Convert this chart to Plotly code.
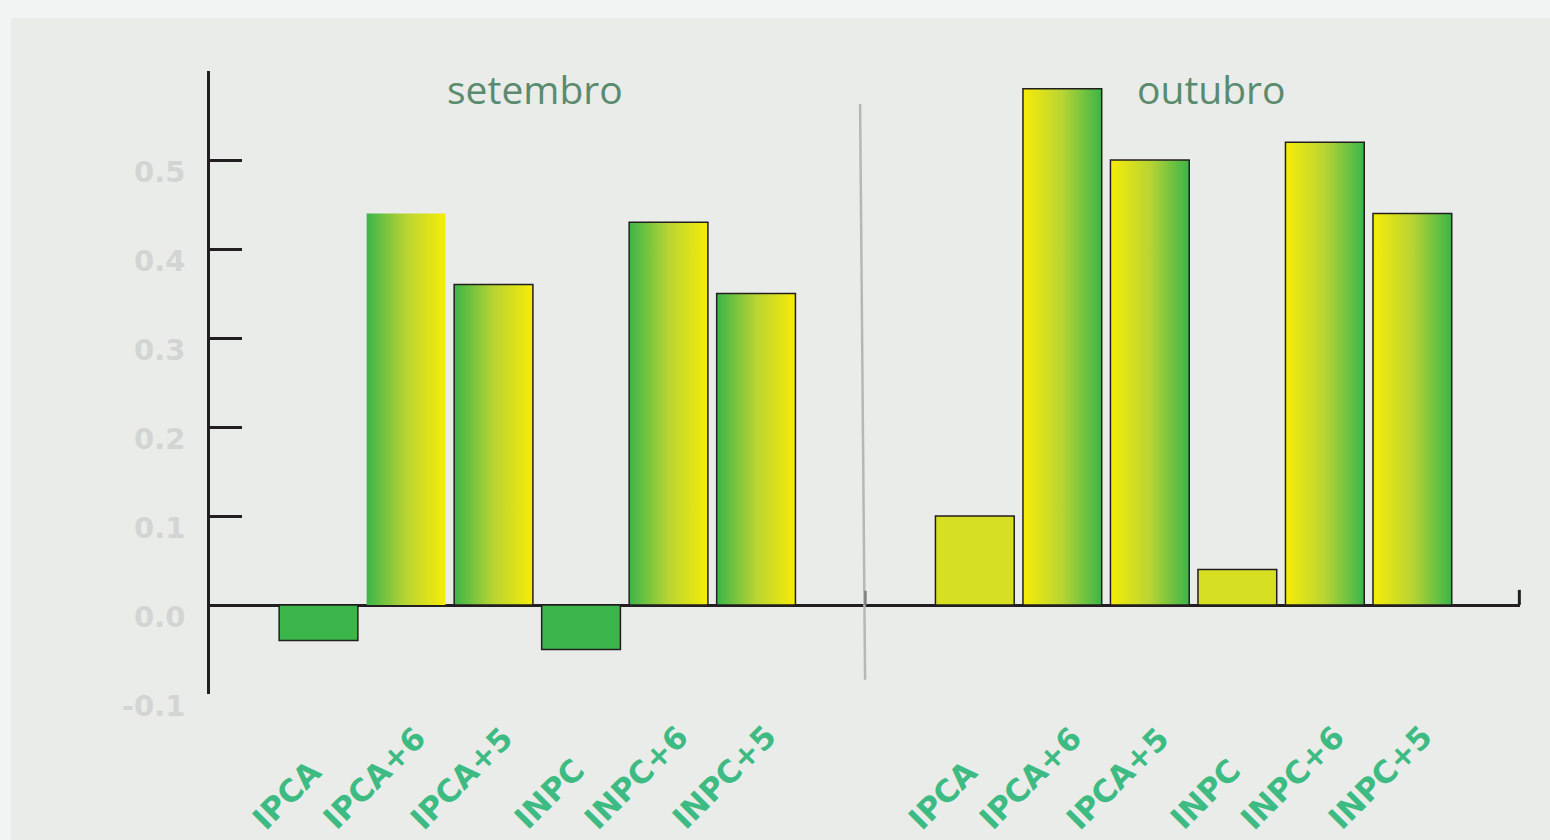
import plotly.graph_objects as go

# ---- data ----
categories = ["IPCA", "IPCA+6", "IPCA+5", "INPC", "INPC+6", "INPC+5"]
setembro = [-0.04, 0.44, 0.36, -0.05, 0.43, 0.35]
outubro = [0.10, 0.58, 0.50, 0.04, 0.52, 0.44]
y_ticks = [-0.1, 0.0, 0.1, 0.2, 0.3, 0.4, 0.5]
y_tick_labels = ["-0.1", "0.0", "0.1", "0.2", "0.3", "0.4", "0.5"]
month_titles = ["setembro", "outubro"]

# ---- styling / layout ----
GREEN = "#3BB54A"
YELLOW = "#F7EC08"
MID = "#B9D433"
SOLID_OCT = "#D7DF23"
OUTLINE = "#231F20"
LABEL_GREEN = "#3DBB83"
BAR_W = 0.9
GROUP_OFFSET = [0.0, 7.5]
TITLE_X = [2.47, 2.7]

fig = go.Figure()

def add_bar(xc, val, kind, outline=True):
    x0, x1 = xc - BAR_W / 2, xc + BAR_W / 2
    xs = [x0, x1, x1, x0, x0]
    ys = [0, 0, val, val, 0]
    line = dict(color=OUTLINE, width=1.5) if outline else dict(width=0, color="rgba(0,0,0,0)")
    scale = [[0, GREEN], [0.5, MID], [1, YELLOW]] if kind == "g2y" else [[0, YELLOW], [0.5, MID], [1, GREEN]]
    fig.add_trace(go.Scatter(x=xs, y=ys, mode="lines", fill="toself", line=line,
                             fillgradient=dict(type="horizontal", colorscale=scale),
                             hoverinfo="skip", showlegend=False))

for g, (vals, off) in enumerate(zip([setembro, outubro], GROUP_OFFSET)):
    xs = [off + i for i in range(len(categories))]
    solid_x, solid_y = [], []
    for i, (x, v) in enumerate(zip(xs, vals)):
        if categories[i] in ("IPCA", "INPC"):
            solid_x.append(x)
            solid_y.append(v)
        else:
            add_bar(x, v, "g2y" if g == 0 else "y2g",
                    outline=not (g == 0 and categories[i] == "IPCA+6"))
        # category label (rotated, bottom aligned)
        fig.add_annotation(x=x, y=-0.2185, xref="x", yref="paper", text=categories[i],
                           textangle=-45, showarrow=False, xanchor="center", yanchor="bottom",
                           xshift=-32, yshift=-9,
                           font=dict(family="DejaVu Sans", size=31, color=LABEL_GREEN, weight="bold"))
    fig.add_trace(go.Bar(x=solid_x, y=solid_y, width=BAR_W,
                         marker=dict(color=GREEN if g == 0 else SOLID_OCT,
                                     line=dict(color=OUTLINE, width=1.5)),
                         hoverinfo="skip", showlegend=False))

# month titles
for off, tx, title in zip(GROUP_OFFSET, TITLE_X, month_titles):
    fig.add_annotation(x=off + tx, y=0.58, xref="x", yref="y", text=title,
                       showarrow=False, yanchor="middle",
                       font=dict(family="Open Sans", size=39, color="#5A8B6F"))

shapes = [
    # inner panel background
    dict(type="rect", xref="paper", yref="paper", x0=-0.152, x1=1.03, y0=-0.25, y1=1.085,
         fillcolor="#EAECE9", line=dict(width=0), layer="below"),
    # separator
    dict(type="line", xref="x", yref="y", x0=6.189, y0=0.563, x1=6.246, y1=-0.084,
         line=dict(color="#B3BAB3", width=2.5)),
    dict(type="line", xref="x", yref="y", x0=6.25, y0=0.0, x1=6.25, y1=0.016,
         line=dict(color="#7F7F7F", width=2.5)),
    # end tick of zero line
    dict(type="line", xref="paper", yref="y", x0=0.9995, y0=0.0, x1=0.9995, y1=0.017,
         line=dict(color=OUTLINE, width=3)),
]

fig.update_layout(
    width=1550, height=840, autosize=False,
    margin=dict(l=210, r=30, t=71, b=146, pad=0),
    paper_bgcolor="#F2F4F3", plot_bgcolor="rgba(0,0,0,0)",
    shapes=shapes, barmode="overlay",
    xaxis=dict(range=[-1.24, 13.73], showticklabels=False, showgrid=False,
               zeroline=False, showline=False, ticks="", automargin=False),
    yaxis=dict(range=[-0.1, 0.6], tickvals=y_ticks, ticktext=y_tick_labels,
               showgrid=False, showline=True, linecolor=OUTLINE, linewidth=2.5,
               ticks="inside", ticklen=32, tickwidth=2.5, tickcolor=OUTLINE,
               zeroline=True, zerolinecolor=OUTLINE, zerolinewidth=2.5, automargin=False,
               ticklabelshift=12, ticklabelstandoff=16,
               tickfont=dict(family="DejaVu Sans", size=29, color="#D3D5D4", weight="bold")),
)

fig.write_html("out.html", config={"displayModeBar": False},
               post_script="document.body.style.margin='0px';")
